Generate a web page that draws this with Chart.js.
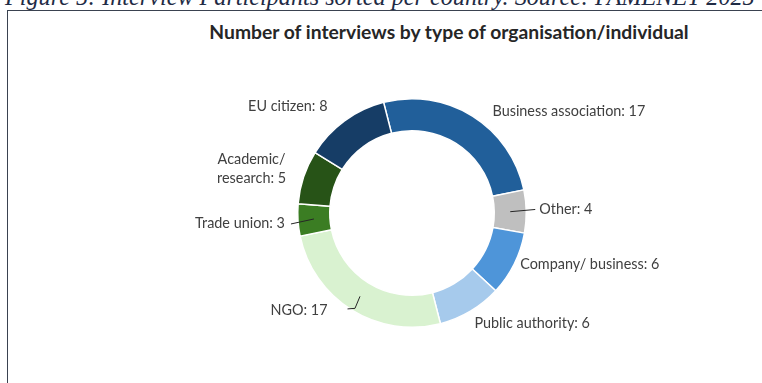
<!DOCTYPE html>
<html>
<head>
<meta charset="utf-8">
<script src="https://cdn.jsdelivr.net/npm/chart.js@4/dist/chart.umd.min.js"></script>
<style>
html,body{margin:0;padding:0;background:#fff;overflow:hidden}
#wrap{position:relative;width:762px;height:383px;overflow:hidden}
#caption{position:absolute;left:5px;top:-17px;font:italic 24.2px "Liberation Serif",serif;color:#1f2b45;white-space:nowrap}
#frame{position:absolute;left:7px;top:10px;width:800px;height:400px;border-left:1.5px solid #3a4250;border-top:1.5px solid #3a4250}
#title{position:absolute;left:0;width:898px;top:20px;text-align:center;font:bold 19.3px Lato,sans-serif;color:#262626}
canvas{position:absolute;left:0;top:0}
</style>
</head>
<body>
<div id="wrap">
<div id="caption">Figure 5: Interview Participants sorted per country. Source: PAMENET 2025</div>
<div id="frame"></div>
<div id="title">Number of interviews by type of organisation/individual</div>
<canvas id="chart" width="762" height="383"></canvas>
</div>
<script>
// interviews per type of organisation, clockwise from the top
const categories = ["Business association","Other","Company/ business","Public authority","NGO","Trade union","Academic/ research","EU citizen"]
const interviews = [17,4,6,6,17,3,5,8]
const sliceColors = ["#215F9A","#BFBFBF","#4E95D9","#A6CAEC","#D9F2D0","#3B7D23","#275317","#163D66"]

// label text, split where it wraps
const labelLines = [
["Business association: 17"],
["Other: 4"],
["Company/ business: 6"],
["Public authority: 6"],
["NGO: 17"],
["Trade union: 3"],
["Academic/","research: 5"],
["EU citizen: 8"]
]
// where each label sits relative to the outer edge of its slice
const labelPos = [
{dx:20,dy:-5,align:"left"},
{dx:13,dy:-2,align:"left",leader:{end:[-4,0]}},
{dx:6,dy:0,align:"left"},
{dx:4,dy:12,align:"left"},
{dx:-24,dy:0,align:"right",leader:{elbow:[-5,12],end:[20,-1]}},
{dx:-13,dy:3,align:"right",leader:{end:[6,1]}},
{dx:-17,dy:-8,align:"center",cx:-35},
{dx:-17,dy:-14,align:"right"}
]

const sliceLabels={
id:"sliceLabels",
afterDatasetsDraw(chart){
const ctx=chart.ctx
const meta=chart.getDatasetMeta(0)
ctx.save()
ctx.font='14.4px Lato, sans-serif'
ctx.fillStyle="#404040"
ctx.strokeStyle="#262626"
ctx.lineWidth=1
ctx.textBaseline="middle"
meta.data.forEach((arc,i)=>{
const p=arc.getProps(["x","y","startAngle","endAngle","innerRadius","outerRadius"],true)
const mid=(p.startAngle+p.endAngle)/2
const ox=p.x+Math.cos(mid)*p.outerRadius
const oy=p.y+Math.sin(mid)*p.outerRadius
const pos=labelPos[i]
const tx=ox+pos.dx
const ty=oy+pos.dy
const lines=labelLines[i]

if(pos.leader){
const r=(p.innerRadius+p.outerRadius)/2
const sx=p.x+Math.cos(mid)*r
const sy=p.y+Math.sin(mid)*r
ctx.beginPath()
ctx.moveTo(sx,sy)
if(pos.leader.elbow) ctx.lineTo(sx+pos.leader.elbow[0],sy+pos.leader.elbow[1])
ctx.lineTo(tx+pos.leader.end[0],ty+pos.leader.end[1])
ctx.stroke()
}

if(lines.length>1){
ctx.textAlign="center"
lines.forEach((t,k)=>ctx.fillText(t,tx+pos.cx,ty+(k-(lines.length-1)/2)*19))
}else{
ctx.textAlign=pos.align
ctx.fillText(lines[0],tx,ty)
}
})
ctx.restore()
}
}

new Chart(document.getElementById("chart"),{
type:"doughnut",
data:{
labels:categories,
datasets:[{
data:interviews,
backgroundColor:sliceColors,
borderColor:"#ffffff",
borderWidth:1.5
}]
},
options:{
responsive:false,
animation:false,
rotation:-14.4,
cutout:"72%",
layout:{padding:{left:297,right:235,top:98,bottom:55}},
plugins:{legend:{display:false},tooltip:{enabled:false},title:{display:false}}
},
plugins:[sliceLabels]
})
</script>
</body>
</html>
